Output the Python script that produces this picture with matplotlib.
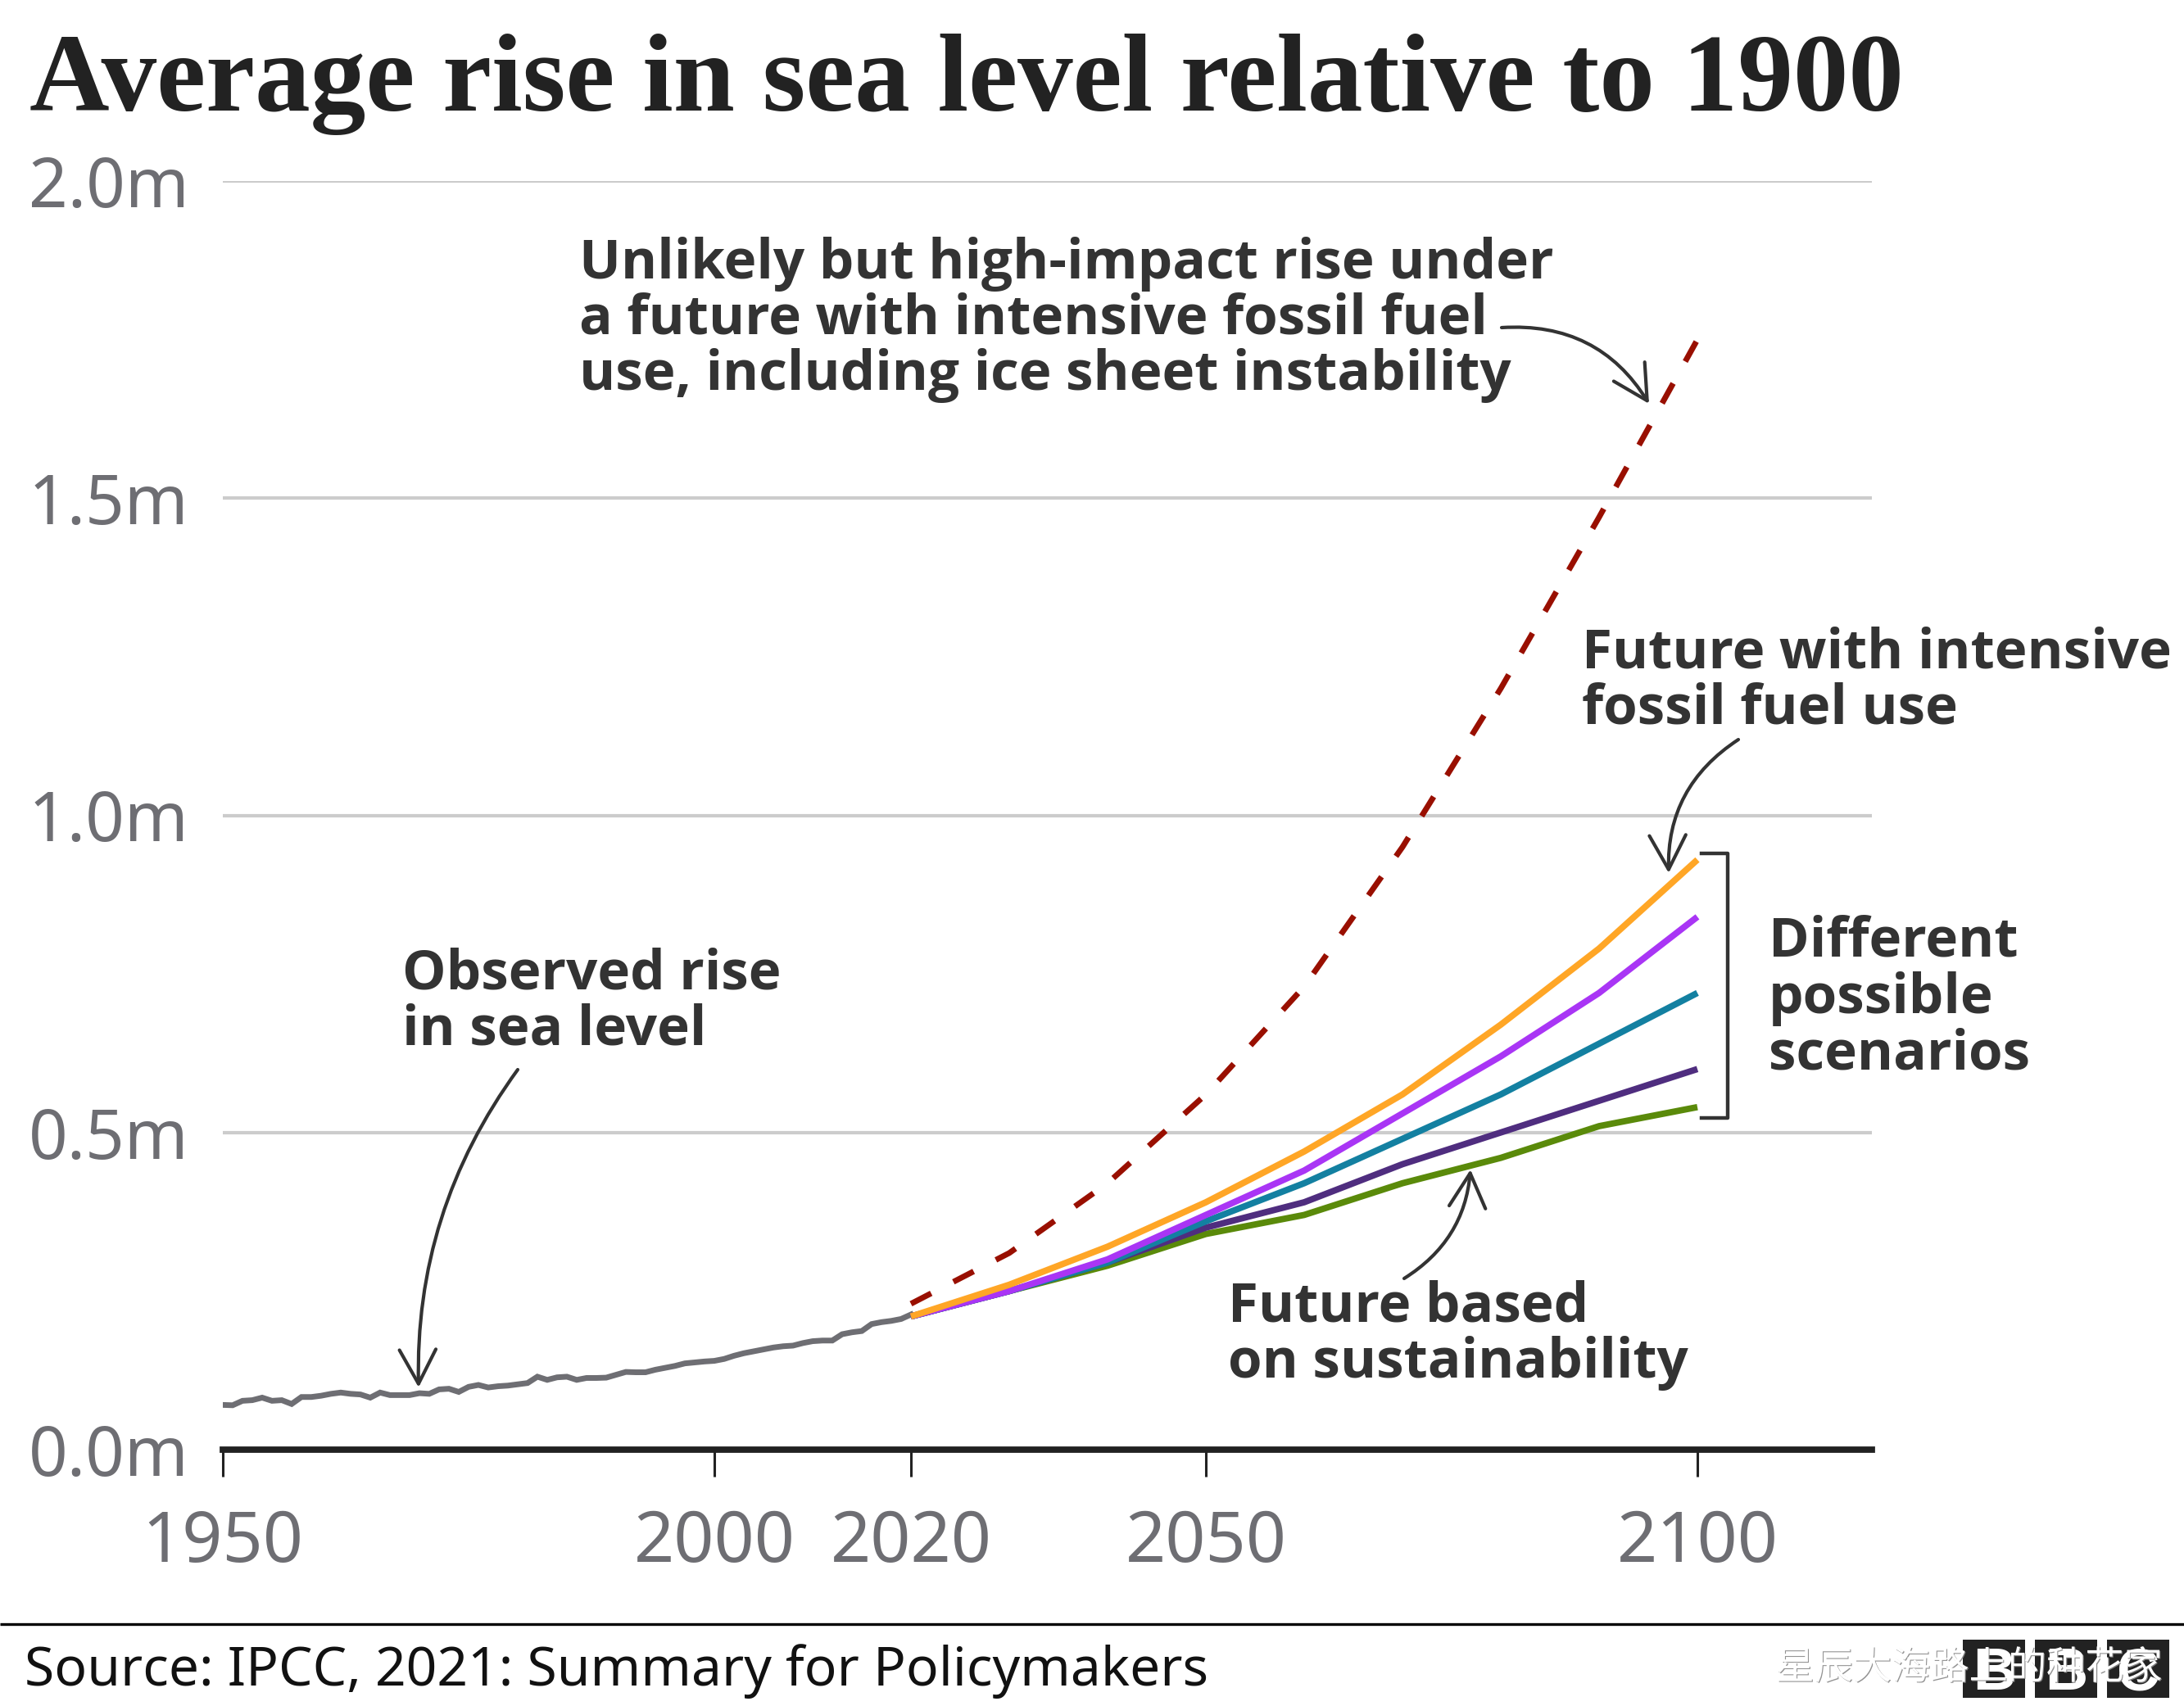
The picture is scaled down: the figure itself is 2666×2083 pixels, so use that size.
import matplotlib
matplotlib.use("Agg")
import matplotlib.pyplot as plt
import matplotlib.patheffects as pe
from matplotlib.patches import FancyArrowPatch, Rectangle

W, H = 2666, 2083
DARK = "#333333"
GREY = "#6e6e73"

# observed yearly values, 1950 to 2020
obs_years = list(range(1950, 2021))
obs_rise = [
    .0705, .070, .077, .078, .082, .077, .078, .072, .083, .083,
    .085, .088, .090, .088, .087, .082, .090, .086, .086, .086,
    .089, .088, .095, .096, .091, .099, .102, .098, .100, .101,
    .103, .105, .115, .110, .114, .115, .110, .113, .113, .1135,
    .118, .1225, .122, .122, .126, .129, .132, .136, .1375, .139,
    .140, .143, .148, .152, .155, .158, .161, .163, .164, .168,
    .171, .172, .172, .182, .185, .187, .198, .201, .203, .206,
    .213,
]

# scenarios, one point per decade
scen_years = [2020, 2030, 2040, 2050, 2060, 2070, 2080, 2090, 2100]
ice_sheet = [.23, .31, .42, .56, .73, .95, 1.20, 1.47, 1.75]
green = [.21, .25, .29, .34, .37, .42, .46, .51, .54]
navy = [.21, .25, .295, .35, .39, .45, .50, .55, .60]
teal = [.21, .25, .295, .36, .42, .49, .56, .64, .72]
purple = [.21, .25, .30, .37, .44, .53, .62, .72, .84]
orange = [.21, .26, .32, .39, .47, .56, .67, .79, .93]

y_ticks = [0.0, 0.5, 1.0, 1.5, 2.0]
y_labels = ["0.0m", "0.5m", "1.0m", "1.5m", "2.0m"]
x_ticks = [1950, 2000, 2020, 2050, 2100]

fig = plt.figure(figsize=(W / 100, H / 100), dpi=100, facecolor="white")

# main plot, placed by pixels of the picture
left, right, top, bottom = 272, 2285, 221, 1770
ax = fig.add_axes([left / W, 1 - bottom / H, (right - left) / W, (bottom - top) / H])
ax.set_xlim(1950, 2117.75)
ax.set_ylim(0, 2)
for name in ["top", "left", "right"]:
    ax.spines[name].set_visible(False)
ax.spines["bottom"].set_linewidth(5.6)
ax.spines["bottom"].set_color("#222222")
ax.spines["bottom"].set_zorder(6)

ax.set_yticks(y_ticks)
ax.set_yticklabels(y_labels, fontfamily="Noto Sans", fontsize=60, color=GREY)
ax.set_xticks(x_ticks)
ax.set_xticklabels([str(x) for x in x_ticks], fontfamily="Noto Sans", fontsize=62, color=GREY)
ax.tick_params(axis="y", length=0, pad=30)
ax.tick_params(axis="x", length=24, width=2.2, color="#222222", pad=28)
for y in y_ticks[1:]:
    ax.axhline(y, color="#cccccc", lw=3, zorder=1)

ax.plot(obs_years, obs_rise, color=GREY, lw=5, zorder=3, solid_joinstyle="miter")
ax.plot(scen_years, ice_sheet, color="#990f00", lw=5, dashes=(4, 4.4), zorder=3,
        dash_capstyle="butt", clip_on=False)
for vals, col in [(green, "#5a8a0a"), (navy, "#4f2d7f"), (teal, "#1380a1"),
                  (purple, "#a935f5"), (orange, "#ffa626")]:
    ax.plot(scen_years, vals, color=col, lw=5.6, zorder=4, solid_capstyle="butt",
            solid_joinstyle="miter")

# bracket round the scenario ends
ax.plot([2100.4, 2103.1, 2103.1, 2100.4], [.94, .94, .523, .523], color=DARK, lw=3.2,
        clip_on=False, zorder=4)

# overlay in reference pixels for the text and furniture
ov = fig.add_axes([0, 0, 1, 1], facecolor="none")
ov.set_xlim(0, W)
ov.set_ylim(H, 0)
ov.axis("off")


def note(x, baselines, lines):
    for yb, line in zip(baselines, lines):
        ov.text(x, yb, line, fontfamily="Open Sans", fontweight="bold", fontsize=48.5,
                color=DARK, ha="left", va="baseline", zorder=8)


def arrow(start, end, rad):
    ov.add_patch(FancyArrowPatch(
        start, end, connectionstyle=f"arc3,rad={rad}",
        arrowstyle="->,head_length=30,head_width=16", mutation_scale=1,
        lw=3, color=DARK, shrinkA=0, shrinkB=0, zorder=7))


ov.text(36, 135, "Average rise in sea level relative to 1900", fontfamily="Liberation Serif",
        fontweight="bold", fontsize=97.3, color="#222222", ha="left", va="baseline")

note(707, [340, 408, 476], ["Unlikely but high-impact rise under",
                            "a future with intensive fossil fuel",
                            "use, including ice sheet instability"])
note(491, [1208, 1276], ["Observed rise", "in sea level"])
note(1931, [816, 884], ["Future with intensive", "fossil fuel use"])
note(2159, [1168, 1237, 1306], ["Different", "possible", "scenarios"])
note(1499, [1613, 1682], ["Future based", "on sustainability"])

arrow((1833, 400), (2013, 493), -0.3)
arrow((632, 1306), (511, 1694), 0.17)
arrow((2122, 903), (2037, 1066), 0.28)
arrow((1714, 1561), (1795, 1428), 0.25)

# footer
ov.plot([0, W], [1983, 1983], color="black", lw=2.4, solid_capstyle="butt")
ov.text(30, 2058, "Source: IPCC, 2021: Summary for Policymakers", fontfamily="Noto Sans",
        fontsize=47.5, color="#111111", ha="left", va="baseline")

for x0, letter in [(2396, "B"), (2484, "B"), (2572, "C")]:
    ov.add_patch(Rectangle((x0, 2002), 75.5, 71, facecolor="#222222", edgecolor="none", zorder=5))
    ov.text(x0 + 38, 2063, letter, fontfamily="Liberation Sans", fontweight="bold", fontsize=52,
            color="white", ha="center", va="baseline", zorder=6)

ov.text(2640, 2050, "星辰大海路上的种花家", fontfamily=["Noto Sans CJK SC", "DejaVu Sans"],
        fontsize=34, color="white", ha="right", va="baseline", zorder=9,
        path_effects=[pe.withSimplePatchShadow(offset=(0.8, -0.8), shadow_rgbFace="#888888", alpha=0.9)])

fig.savefig("out.png", dpi=100, facecolor="white")
